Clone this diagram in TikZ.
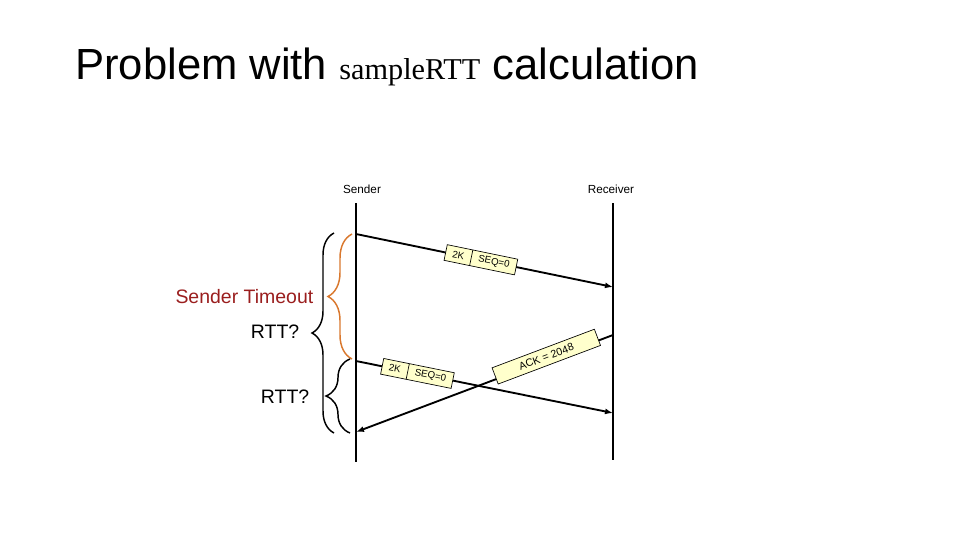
\documentclass[tikz,border=0pt]{standalone}
\usepackage{fontspec}
\setmainfont{Liberation Sans}
\newfontfamily\serifface{Liberation Serif}
\usetikzlibrary{arrows.meta, positioning, calc, shapes.multipart, decorations.pathreplacing}
\definecolor{c1}{HTML}{000000}
\definecolor{pktfill}{HTML}{FFFFCC}
\definecolor{tocolor}{HTML}{D9782E}
\definecolor{toredtext}{HTML}{9A1E1E}

\begin{document}
\begin{tikzpicture}[
    x=0.75pt, y=-0.75pt,
    every node/.style={font=\sffamily},
    life/.style={c1, line width=1.4pt},
    msg/.style={c1, line width=1.4pt, -{Latex[length=6pt, width=4.5pt]}},
    hdr/.style={font=\fontsize{8.8}{10}\selectfont, text=c1},
    pkt/.style={rectangle split, rectangle split horizontal, rectangle split parts=2,
        draw=c1, fill=pktfill, line width=0.5pt, sloped,
        font=\fontsize{7.3}{8}\selectfont, inner xsep=5.2pt, inner ysep=2.7pt,
        text height=5.2pt, text depth=0.3pt},
    ackbox/.style={rectangle, draw=c1, fill=pktfill, line width=0.5pt, sloped,
        font=\fontsize{8}{9}\selectfont, minimum width=82pt, minimum height=13pt,
        inner sep=1pt},
    brc/.style={decorate, line width=1.1pt},
    side/.style={font=\fontsize{14.6}{17}\selectfont, anchor=east},
]
\useasboundingbox (0,0) rectangle (960,540);

% ============================================================ title
\node[anchor=base west, inner sep=0pt, font=\fontsize{32.7}{38}\selectfont] (title) at (75,79)
    {Problem with {\serifface\fontsize{22.7}{26}\selectfont sampleRTT} calculation};

% ============================================================ the two ends
\node[hdr] (sndlab) at (362,189) {Sender};
\node[hdr] (rcvlab) at (611,189) {Receiver};

\coordinate (snd top) at (356,203);
\coordinate (snd bot) at (356,462);
\coordinate (rcv top) at (613,203);
\coordinate (rcv bot) at (613,460);
\draw[life] (snd top) -- (snd bot);
\draw[life] (rcv top) -- (rcv bot);

% ============================================================ segments in flight
\coordinate (d1 out) at (356,234);
\coordinate (d1 in)  at (613,287);
\coordinate (d2 out) at (356,361);
\coordinate (d2 in)  at (613,413);
\coordinate (ack out) at (613,335);
\coordinate (ack in)  at (356,432);

\draw[msg] (d1 out) -- node[pkt, pos=0.486] (seg1) {2K \nodepart{two} SEQ=0} (d1 in);
\draw[msg] (d2 out) -- node[pkt, pos=0.239] (seg2) {2K \nodepart{two} SEQ=0} (d2 in);
\draw[msg] (ack out) -- node[ackbox, pos=0.255, yshift=2.5pt] (ackpkt) {ACK = 2048} (ack in);

% ============================================================ braces
\coordinate (tmo top) at (352,234);
\coordinate (tmo bot) at (352,359);
\draw[brc, tocolor, decoration={brace, amplitude=18pt}] (tmo bot) -- (tmo top);
\node[side, text=toredtext] (tmolab) at (318,297) {Sender Timeout};

\coordinate (rtt1 top) at (334,233);
\coordinate (rtt1 bot) at (334,433);
\draw[brc, c1, decoration={brace, amplitude=16.5pt}] (rtt1 bot) -- (rtt1 top);
\node[side] (rtt1lab) at (304,332) {RTT?};

\coordinate (rtt2 top) at (350,359);
\coordinate (rtt2 bot) at (350,433);
\draw[brc, c1, decoration={brace, amplitude=18pt}] (rtt2 bot) -- (rtt2 top);
\node[side] (rtt2lab) at (314,397) {RTT?};

\end{tikzpicture}
\end{document}
